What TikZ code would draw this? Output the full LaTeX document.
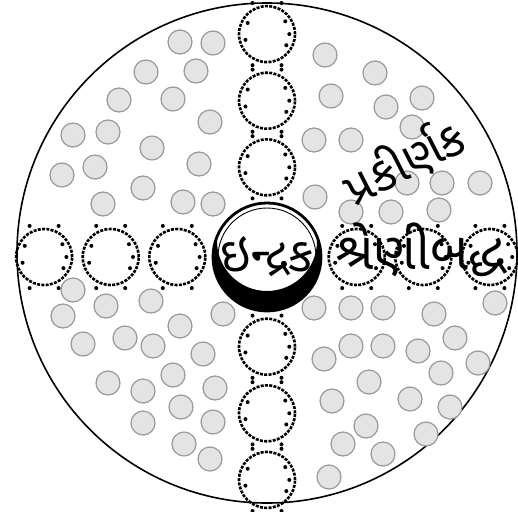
\documentclass[tikz,border=0pt]{standalone}
\usepackage{fontspec}
\newfontfamily\gujfont[Script=Gujarati]{Noto Sans Gujarati UI}
\usetikzlibrary{positioning}
\definecolor{dotfill}{HTML}{E4E4E4}
\definecolor{dotline}{HTML}{999999}

\begin{document}
\begin{tikzpicture}[
  x=1pt,y=-1pt,
  node distance=8pt,
  scatter/.style={circle,draw=dotline,fill=dotfill,line width=1.2pt,minimum size=24pt,inner sep=0pt},
  cell/.style={circle,draw,line width=2.6pt,dash pattern=on 3pt off 1.3pt,minimum size=56pt,inner sep=0pt},
  core/.style={circle,draw,fill=white,line width=2.8pt,minimum size=108pt,inner sep=0pt,
    font=\gujfont\fontsize{48}{52}\selectfont,
    path picture={
      \draw[line width=0.9pt] (path picture bounding box.center) circle (49pt);
      \fill[black,even odd rule] (path picture bounding box.center) circle (60pt)
        ([yshift=16pt]path picture bounding box.center) circle (50pt);
    }},
  word/.style={font=\gujfont\fontsize{52}{56}\selectfont,inner sep=0pt}
]
\useasboundingbox (0,0) rectangle (518,511);
\node[circle,draw,line width=1.6pt,minimum size=500pt,inner sep=0pt] (disk) at (267,253) {};
% scattered abodes
\foreach \x/\y [count=\i] in {180/42,213/43,146/72,196/71,119/100,173/99,210/122,73/135,108/132,
  152/148,199/164,62/175,95/167,143/188,103/204,183/202,213/204,
  325/55,375/73,331/96,386/107,422/98,412/127,314/140,351/140,407/183,442/183,480/183,
  315/197,351/212,391/212,439/210,
  73/290,63/316,106/306,151/301,223/314,180/326,83/344,125/338,153/346,203/354,173/375,
  108/383,143/391,215/388,181/407,143/423,213/422,184/444,210/459,
  314/308,351/308,383/308,434/314,495/303,455/338,351/346,383/346,418/351,324/359,
  441/373,478/363,369/382,332/401,410/399,450/407,366/426,426/434,343/444,383/454,329/477}
  \node[scatter] (g\i) at (\x,\y) {};
% centre and rows
\node[core] (indra) at (267,257) {ઇન્દ્રક};
\node[cell,above=5pt of indra] (u1) {};
\node[cell,above=of u1] (u2) {};
\node[cell,above=of u2] (u3) {};
\node[cell,below=5pt of indra] (d1) {};
\node[cell,below=of d1] (d2) {};
\node[cell,below=of d2] (d3) {};
\node[cell,left=5pt of indra] (l1) {};
\node[cell,left=of l1] (l2) {};
\node[cell,left=of l2] (l3) {};
\node[cell,right=5pt of indra] (r1) {};
\node[cell,right=of r1] (r2) {};
\node[cell,right=of r2] (r3) {};
\foreach \c in {u1,u2,u3,d1,d2,d3,l1,l2,l3,r1,r2,r3}{
  \foreach \a in {35,0,-30,150,195}
    \fill ([shift={(\a+180:7pt)}]\c.\a) circle (2pt);
  \foreach \a in {115,65,245,295}
    \fill ([shift={(\a:5pt)}]\c.\a) circle (2pt);
}
\node[word,anchor=west] (shreni) at (336,250) {શ્રેણીબદ્ધ};
\node[word,rotate=27,font=\gujfont\fontsize{48}{52}\selectfont] (prakirnak) at (404,162) {પ્રકીર્ણક};
\end{tikzpicture}
\end{document}
